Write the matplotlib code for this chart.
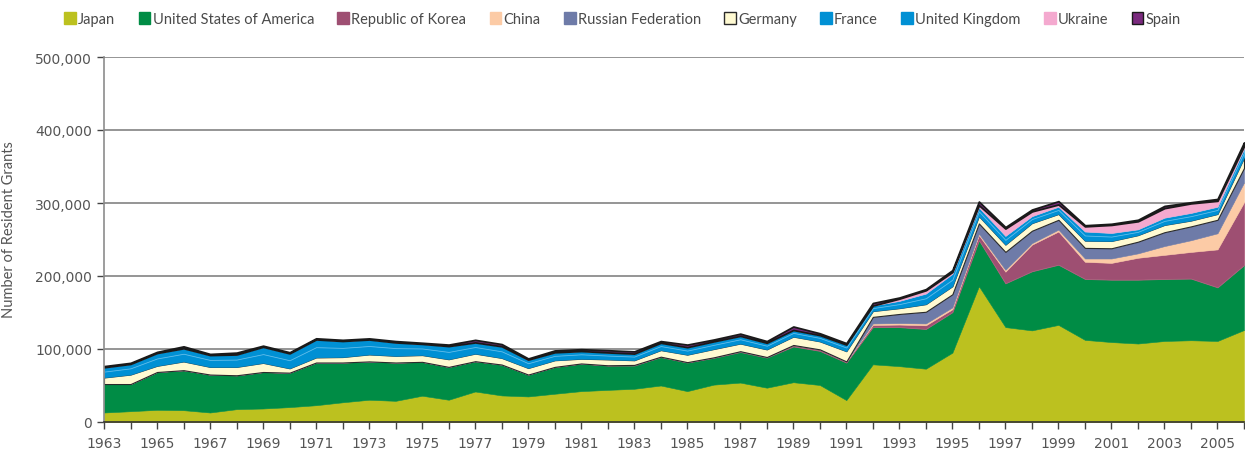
import matplotlib
matplotlib.use("Agg")
import matplotlib.pyplot as plt
from matplotlib.patches import Patch
from matplotlib.ticker import FuncFormatter, MultipleLocator

years = list(range(1963, 2007))

japan = [13000, 14800, 16700, 16200, 13000, 17600, 18500, 20400, 23000, 27000,
         30500, 29000, 36000, 30500, 41800, 36400, 35000, 38700, 42300, 44000,
         45500, 50000, 42300, 51200, 54000, 47000, 54500, 50700, 30000, 79000,
         76500, 73000, 95000, 186000, 130000, 125500, 133000, 112500, 109500, 107500,
         111000, 112000, 111000, 126000]
usa = [39000, 37200, 51800, 54800, 52000, 46400, 50000, 47200, 58500, 54500,
       52500, 52500, 46400, 45000, 41500, 42300, 30000, 36800, 37700, 33400,
       31900, 39000, 39200, 36800, 42000, 41300, 49100, 46800, 51500, 51000,
       53500, 54500, 55500, 63000, 60000, 81000, 82500, 83500, 85500, 87500,
       85000, 84500, 73500, 89000]
korea = [0, 0, 0, 0, 0, 0, 0, 0, 0, 0,
         0, 0, 0, 0, 0, 0, 0, 0, 200, 300,
         800, 500, 500, 600, 1000, 700, 1900, 2000, 1500, 3000,
         3500, 5000, 4000, 7000, 16000, 36500, 45500, 23500, 23000, 30000,
         33000, 36500, 52000, 86000]
china = [0, 0, 0, 0, 0, 0, 0, 0, 0, 0,
         0, 0, 0, 0, 0, 0, 0, 0, 0, 0,
         0, 0, 0, 0, 0, 0, 0, 0, 0, 2000,
         2000, 2500, 2500, 2000, 2500, 2000, 2500, 4500, 6000, 6000,
         12000, 16000, 22000, 27000]
russia = [0, 0, 0, 0, 0, 0, 0, 0, 0, 0,
          0, 0, 0, 0, 0, 0, 0, 0, 0, 0,
          0, 0, 0, 0, 0, 0, 0, 0, 0, 9000,
          12500, 16000, 18000, 14000, 24500, 17000, 13500, 14500, 14000, 16000,
          19000, 19000, 18500, 20000]
germany = [9000, 13000, 8500, 12000, 10500, 11500, 12500, 6000, 7000, 7500,
           9600, 9200, 9300, 10500, 10400, 9100, 9000, 9100, 6500, 8100,
           6400, 9000, 10300, 11400, 10500, 10500, 11500, 11000, 14000, 8000,
           8000, 10500, 11000, 10000, 10000, 10500, 8000, 10000, 10000, 9000,
           10000, 8000, 8000, 14000]
france = [8000, 8500, 10000, 10500, 9500, 10000, 12000, 11000, 14000, 12500,
          11500, 10500, 9000, 10000, 9000, 9000, 6500, 6000, 6000, 5200,
          5000, 5500, 5500, 5700, 5800, 5000, 5000, 4700, 5000, 4000,
          5500, 8000, 9000, 6500, 6500, 5500, 5500, 7000, 6000, 4500,
          5500, 6000, 5500, 7000]
uk = [6000, 6100, 7500, 7500, 6700, 7000, 10000, 9400, 10600, 9500,
      8900, 7800, 6300, 8000, 6300, 6900, 5000, 4900, 4500, 4300,
      4100, 4500, 4700, 4800, 4700, 4000, 4000, 3800, 4000, 3500,
      4500, 6500, 8000, 5500, 5500, 4000, 4500, 5500, 5000, 3500,
      4500, 4500, 4500, 5500]
ukraine = [0, 0, 0, 0, 0, 0, 0, 0, 0, 0,
           0, 0, 0, 0, 0, 0, 0, 0, 0, 0,
           0, 0, 0, 0, 0, 0, 0, 0, 0, 0,
           3000, 4500, 2500, 3000, 10000, 6500, 3000, 7000, 11000, 11000,
           13000, 13000, 8000, 3500]
spain = [1500, 1400, 1500, 2600, 1500, 2500, 1500, 1500, 1500, 1500,
         1500, 1800, 1500, 2000, 3500, 3000, 1500, 2500, 2500, 3000,
         3000, 2300, 3500, 2500, 3000, 2300, 4800, 2500, 2000, 3500,
         1500, 1500, 2500, 5000, 2000, 2500, 4500, 1500, 1500, 2000,
         3000, 1500, 2500, 5000]

names = ["Japan", "United States of America", "Republic of Korea", "China",
         "Russian Federation", "Germany", "France", "United Kingdom",
         "Ukraine", "Spain"]
series = [japan, usa, korea, china, russia, germany, france, uk, ukraine, spain]
fills = ["#BCC11F", "#008C45", "#9E4F72", "#FCCBA6", "#6E7BA8",
         "#FFFAD2", "#0090D4", "#0090D4", "#F4A9CF", "#7A2A7E"]
edges = ["#BCC11F", "#008C45", "#B0607F", "#FCCBA6", "#6E7BA8",
         "#2a2a2a", "#0090D4", "#5DBBEA", "#F4A9CF", "#1a1a1a"]
widths = [0.4, 0.4, 0.6, 0.4, 0.4, 0.8, 0.4, 0.6, 0.4, 1.3]

fig = plt.figure(figsize=(12.45, 4.56), dpi=100)
ax = fig.add_axes([104 / 1245, 33 / 456, 1140 / 1245, 365 / 456])

polys = ax.stackplot(years, *series, colors=fills)
for p, ec, lw in zip(polys, edges, widths):
    p.set_edgecolor(ec)
    p.set_linewidth(lw)

ax.set_xlim(1963, 2006)
ax.set_ylim(0, 500000)
ax.set_axisbelow(True)
ax.yaxis.grid(True, color="#8c8c8c", linewidth=1.3)

ax.yaxis.set_major_locator(MultipleLocator(100000))
ax.yaxis.set_major_formatter(FuncFormatter(lambda v, _: f"{int(v):,}"))
ax.set_xticks(list(range(1963, 2006, 2)))
ax.set_xticks(list(range(1964, 2007, 2)), minor=True)

for side in ("top", "right"):
    ax.spines[side].set_visible(False)
ax.spines["left"].set_color("#8c8c8c")
ax.spines["left"].set_linewidth(1.2)
ax.spines["bottom"].set_color("#333333")
ax.spines["bottom"].set_linewidth(1.2)

ax.tick_params(axis="both", which="both", direction="out", colors="#444444",
               labelcolor="#555555", labelsize=10, length=5, width=1)
ax.tick_params(axis="x", pad=5)

ax.set_ylabel("Number of Resident Grants", fontsize=10.5, color="#555555",
              family=["Lato", "DejaVu Sans"])
ax.yaxis.set_label_coords(-0.077, 0.53)

handles = [Patch(facecolor=f, edgecolor=(e if i in (5, 9) else f), linewidth=1)
           for i, (f, e) in enumerate(zip(fills, edges))]
fig.legend(handles, names, loc="upper center", bbox_to_anchor=(0.5, 1.0),
           ncol=10, frameon=False, handlelength=0.8, handleheight=0.8,
           handletextpad=0.15, columnspacing=1.6,
           prop={"family": ["Lato", "DejaVu Sans"], "size": 10.5},
           labelcolor="#4a4a4a", borderaxespad=0.5)

fig.savefig("out.png", dpi=100)
